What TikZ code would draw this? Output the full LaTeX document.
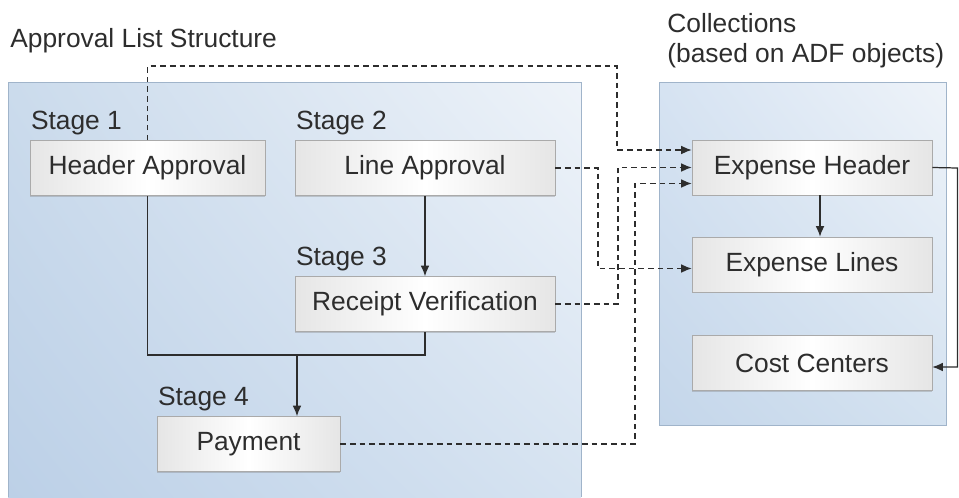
\documentclass[tikz,border=0pt]{standalone}
\usepackage{fontspec}
\setmainfont{Liberation Sans}
\usetikzlibrary{arrows.meta,calc,shadows,shadings}

\definecolor{inkgray}{RGB}{45,45,45}
\definecolor{panelline}{RGB}{160,180,202}
\definecolor{boxline}{RGB}{170,170,170}
\definecolor{leftUL}{RGB}{203,219,236}
\definecolor{leftUR}{RGB}{238,243,249}
\definecolor{leftLL}{RGB}{188,208,231}
\definecolor{leftLR}{RGB}{214,227,241}
\definecolor{rightUL}{RGB}{214,227,242}
\definecolor{rightUR}{RGB}{238,243,249}
\definecolor{rightLL}{RGB}{196,214,234}
\definecolor{rightLR}{RGB}{212,226,240}

\tikzset{
  stagebox/.style={draw=boxline, line width=0.4pt, inner sep=0pt,
    left color=black!10, right color=black!10, middle color=white,
    drop shadow={shadow xshift=0pt, shadow yshift=-0.6pt, opacity=0.35},
    minimum height=1.1cm, font=\fontsize{15}{18}\selectfont, text=inkgray},
  stagelabel/.style={anchor=base west, inner sep=0pt,
    font=\fontsize{15}{17}\selectfont, text=inkgray},
  flowlink/.style={draw=inkgray, line width=0.7pt,
    -{Latex[length=6pt,width=5pt]}},
  dashlink/.style={flowlink, dash pattern=on 3.2pt off 2.3pt}
}

\begin{document}
\begin{tikzpicture}[x=0.02cm, y=-0.02cm]
        \useasboundingbox (0,0) rectangle (959,497);

        % the two panels
        \shade [upper left=leftUL, upper right=leftUR,
                lower left=leftLL, lower right=leftLR]
              (8,82) rectangle (581,497);
        \draw [panelline, line width=0.5pt] (8,497) |- (581,82) -- (581,497);
        \shade [upper left=rightUL, upper right=rightUR,
                lower left=rightLL, lower right=rightLR]
              (659,82) rectangle (946,425);
        \draw [panelline, line width=0.5pt] (659,82) rectangle (946,425);

        \node [stagelabel] (title) at (10,47) {Approval List Structure};
        \node [stagelabel, align=left] (coll) at (667,62)
              {Collections\\(based on ADF objects)};

        % stages
        \node [stagebox, minimum width=4.7cm]  (hdr) at (147.5,168) {Header Approval};
        \node [stagebox, minimum width=5.2cm]  (la)  at (425,168)   {Line Approval};
        \node [stagebox, minimum width=5.2cm]  (rv)  at (425,304)   {Receipt Verification};
        \node [stagebox, minimum width=3.66cm] (pay) at (248.5,444) {Payment};

        \node [stagelabel] (s1) at ($(hdr.north west)+(1,-11)$) {Stage 1};
        \node [stagelabel] (s2) at ($(la.north west)+(1,-11)$)  {Stage 2};
        \node [stagelabel] (s3) at ($(rv.north west)+(1,-11)$)  {Stage 3};
        \node [stagelabel] (s4) at ($(pay.north west)+(1,-11)$) {Stage 4};

        % collections
        \node [stagebox, minimum width=4.8cm] (eh) at (812,167.5) {Expense Header};
        \node [stagebox, minimum width=4.8cm] (el) at (812,264.5) {Expense Lines};
        \node [stagebox, minimum width=4.8cm] (cc) at (812,363)   {Cost Centers};

        % approval flow
        \coordinate (join) at (297,355);
        \draw [flowlink, -] (hdr.south) |- (join) -| (rv.south);
        \draw [flowlink] (join) -- (join |- pay.north);
        \draw [flowlink] (la.south) -- (rv.north);

        % links to the collections
        \draw [dashlink] (hdr.north) |- (617,66) |- ($(eh.west)+(0,-17.5)$);
        \draw [dashlink] (la.east) -- (598,168) |- ($(el.west)+(0,4)$);
        \draw [dashlink] (rv.east) -- (618,304) |- (eh.west);
        \draw [dashlink] (pay.east) -- (635,444) |- ($(eh.west)+(0,16)$);

        \draw [flowlink] ($(eh.south)+(8,0)$) -- ($(el.north)+(8,0)$);
        \draw [flowlink] (eh.east) -- (957.5,168) |- ($(cc.east)+(0,4)$);

    \end{tikzpicture}
\end{document}
